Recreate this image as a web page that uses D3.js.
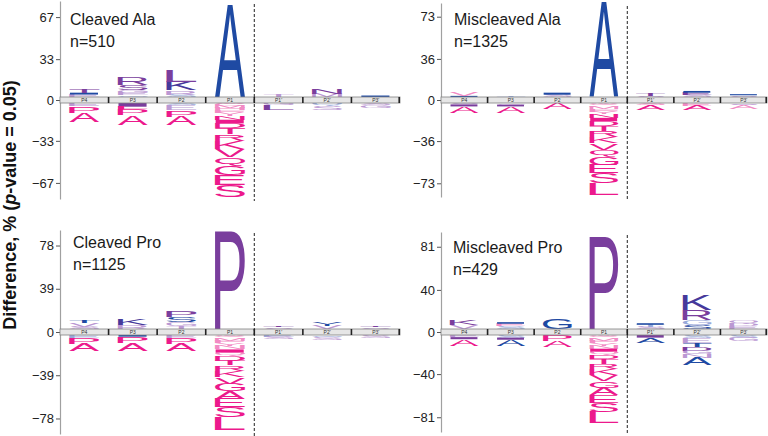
<!DOCTYPE html>
<html><head><meta charset="utf-8">
<script src="https://cdn.jsdelivr.net/npm/d3@7"></script>
<style>body{margin:0;background:#fff}</style></head>
<body>
<svg id="chart" width="768" height="436"></svg>
<script>
// ---- data ----
const positions = ["P4","P3","P2","P1","P1'","P2'","P3'"];

// each position: letters listed from the zero bar outward, [residue, % difference, colour key]
const cleavedAlaUp = [
  [["E",2,"lp"],["I",1.5,"b"],["T",3,"p"]],
  [["Q",1.5,"lb"],["E",2,"lp"],["G",2.5,"lp"],["S",4,"p"],["R",6.5,"p"]],
  [["S",2,"lb"],["R",3.5,"lp"],["K",7,"ib"],["L",9,"p"]],
  [["A",74,"b"]],
  [["T",1.5,"lp"]],
  [["M",2.5,"lp"],["N",4.5,"p"]],
  [["I",1.2,"b"]]
];
const cleavedAlaDown = [
  [["E",2.5,"lp"],["P",5.5,"pk"],["A",7.5,"pk"]],
  [["I",3,"p"],["L",2,"pk"],["P",5,"pk"],["A",7.5,"pk"]],
  [["S",2,"lb"],["E",3.5,"lp"],["P",5.5,"pk"],["A",7,"pk"]],
  [["W",1,"lpk"],["C",1.5,"lpk"],["M",1.5,"lpk"],["H",2,"lpk"],["F",2,"lpk"],["Y",2.5,"lpk"],["N",3,"pk"],["I",3,"pk"],["D",4,"pk"],["T",5,"pk"],["R",5.5,"pk"],["K",6,"pk"],["V",6.5,"pk"],["Q",7,"pk"],["G",7.5,"pk"],["E",8,"pk"],["S",10,"pk"]],
  [["G",2,"lp"],["L",4,"p"]],
  [["Q",2,"lb"],["S",3.5,"lp"]],
  [["S",2,"lp"],["G",2,"lp"]]
];

const miscleavedAlaUp = [
  [["I",1,"b"],["V",3,"lpk"]],
  [["T",1.5,"lb"]],
  [["S",2,"lp"],["I",1.8,"b"]],
  [["A",83,"b"]],
  [["S",1,"lp"],["T",1.8,"p"]],
  [["S",1.8,"lp"],["E",2,"p"],["I",1.5,"b"]],
  [["S",1.5,"lp"],["I",1,"b"]]
];
const miscleavedAlaDown = [
  [["S",1.2,"lp"],["I",1.8,"p"],["A",6,"pk"]],
  [["G",1.5,"lp"],["I",1.5,"p"],["A",5.5,"pk"]],
  [["A",5.5,"pk"]],
  [["W",1,"lpk"],["C",1,"lpk"],["H",1.5,"lpk"],["M",2,"lpk"],["F",2,"lpk"],["Y",2.5,"lpk"],["N",3,"pk"],["I",3,"pk"],["D",4,"pk"],["T",4.5,"pk"],["R",5,"pk"],["K",5.5,"pk"],["V",6,"pk"],["Q",6,"pk"],["G",7,"pk"],["E",7.5,"pk"],["S",9,"pk"],["L",10.5,"pk"]],
  [["S",2,"lpk"],["A",4.5,"pk"]],
  [["E",2.5,"lpk"],["A",4,"pk"]],
  [["S",1.5,"lp"],["A",3.5,"lpk"]]
];

const cleavedProUp = [
  [["S",2,"lp"],["V",3.5,"lp"],["T",2,"b"]],
  [["R",3.5,"lp"],["K",6,"ib"]],
  [["T",2.5,"lp"],["G",3.5,"lp"],["S",4.5,"b"],["P",5.5,"p"]],
  [["P",88,"p"]],
  [["S",1.5,"lp"],["T",1.5,"p"]],
  [["V",3,"lp"],["Y",3,"b"]],
  [["S",1.5,"lp"],["T",1.5,"p"]]
];
const cleavedProDown = [
  [["E",2.5,"lb"],["P",5.5,"pk"],["A",6.5,"pk"]],
  [["I",1.5,"b"],["P",5.5,"pk"],["A",7,"pk"]],
  [["E",2.5,"lp"],["P",5.5,"pk"],["A",6.5,"pk"]],
  [["W",1,"lpk"],["C",1,"lpk"],["H",1.5,"lpk"],["M",2,"lpk"],["F",2,"lpk"],["Y",2.5,"lpk"],["N",3,"lpk"],["I",3,"pk"],["Q",3,"lpk"],["D",4,"pk"],["T",4.5,"pk"],["R",5,"pk"],["K",5.5,"pk"],["V",6,"pk"],["G",6.5,"pk"],["A",7,"pk"],["E",7.5,"pk"],["S",9.5,"pk"],["L",11,"pk"]],
  [["E",2,"lb"],["S",2,"lp"]],
  [["Q",2,"lb"],["S",2.5,"lp"]],
  [["S",2.5,"lp"]]
];

const miscleavedProUp = [
  [["V",3.5,"lp"],["K",4.5,"p"]],
  [["S",2.5,"lb"],["E",2.5,"lpk"],["I",1.5,"b"]],
  [["G",10,"b"]],
  [["P",88,"p"]],
  [["S",2,"lp"],["T",2,"lb"],["I",1.5,"b"]],
  [["S",3.5,"b"],["G",5,"lb"],["R",9.5,"p"],["K",14,"ib"]],
  [["E",2.5,"lp"],["D",2.5,"lp"],["Q",3.5,"lp"]]
];
const miscleavedProDown = [
  [["E",2,"lp"],["I",2,"p"],["A",6,"pk"]],
  [["S",2.5,"lb"],["I",2,"p"],["A",6,"b"]],
  [["P",5.5,"pk"],["A",6,"pk"]],
  [["W",1,"lpk"],["C",1,"lpk"],["H",1.5,"lpk"],["M",2,"lpk"],["F",2,"lpk"],["Y",2.5,"lpk"],["N",3,"lpk"],["I",3,"pk"],["Q",3,"lpk"],["D",4,"pk"],["T",4.5,"pk"],["R",5,"pk"],["K",5.5,"pk"],["V",6,"pk"],["G",6,"pk"],["A",7,"pk"],["E",7.5,"pk"],["S",8.5,"pk"],["L",11,"pk"]],
  [["I",2.5,"p"],["A",5,"b"]],
  [["S",3,"lb"],["E",4.5,"lp"],["T",3.5,"b"],["D",4,"p"],["G",3.5,"lp"],["N",3,"lp"],["A",7,"b"]],
  [["S",2.5,"lb"],["G",3,"lp"]]
];

const tickSets = [[-67,-33,0,33,67],[-73,-36,0,36,73],[-78,-39,0,39,78],[-81,-40,0,40,81]];
const titles = ["Cleaved Ala","Miscleaved Ala","Cleaved Pro","Miscleaved Pro"];
const counts = ["n=510","n=1325","n=1125","n=429"];
const axisMax = [80,85,92,95];

// ---- styles / layout ----
const colors = {pk:"#ec198c", lpk:"#f28ac4", b:"#1f4aa3", lb:"#98a9da", p:"#7a3e9d", lp:"#bb98d3", ib:"#46399b"};
const layout = [
  {x0:60,  x1:400, yTop:1,   yBottom:199, tx:70,  ty:25},
  {x0:441, x1:767, yTop:3,   yBottom:197, tx:454, ty:25},
  {x0:60,  x1:400, yTop:230, yBottom:434, tx:73,  ty:248},
  {x0:441, x1:767, yTop:232, yBottom:432, tx:453, ty:253}
];
const ups = [cleavedAlaUp, miscleavedAlaUp, cleavedProUp, miscleavedProUp];
const downs = [cleavedAlaDown, miscleavedAlaDown, cleavedProDown, miscleavedProDown];

const FONT = "'Liberation Sans', Arial, sans-serif";
const ctx = document.createElement("canvas").getContext("2d");
ctx.font = "100px 'Liberation Sans', Arial, sans-serif";
const inkCache = {};
function ink(ch){
  if(!inkCache[ch]){
    const m = ctx.measureText(ch);
    inkCache[ch] = {l:-m.actualBoundingBoxLeft, r:m.actualBoundingBoxRight, t:-m.actualBoundingBoxAscent, b:m.actualBoundingBoxDescent};
  }
  return inkCache[ch];
}
function drawLetter(g, ch, cx, w, yA, yB, color){
  const h = yB - yA;
  if (h < 0.25) return;
  const k = ink(ch);
  const sx = w/(k.r-k.l), sy = h/(k.b-k.t);
  g.append("text").text(ch)
    .attr("x",0).attr("y",0)
    .style("font-family",FONT).style("font-size","100px")
    .attr("fill",color)
    .attr("transform",`translate(${cx-w/2},${yA}) scale(${sx},${sy}) translate(${-k.l},${-k.t})`);
}

const svg = d3.select("#chart");
const HALF = 3; // half height of the zero bar

layout.forEach((L, i) => {
  const g = svg.append("g");
  const x = d3.scaleBand().domain(positions).range([L.x0, L.x1]).padding(0);
  const y = d3.scaleLinear().domain([-axisMax[i], axisMax[i]]).range([L.yBottom, L.yTop]);
  const y0 = y(0);
  const lw = x.bandwidth()*0.62;

  // y axis
  const ax = g.append("g").attr("transform",`translate(${L.x0},0)`)
    .call(d3.axisLeft(y).tickValues(tickSets[i]).tickSize(4).tickSizeOuter(0).tickPadding(2).tickFormat(d3.format("d")));
  ax.select(".domain").attr("stroke","#a0a0a0").attr("stroke-width",1.2);
  ax.selectAll(".tick line").attr("stroke","#555");
  ax.selectAll(".tick text").style("font-family","'Liberation Sans', Arial, sans-serif").style("font-size","13px").attr("fill","#222");

  // letters
  positions.forEach((p, j) => {
    const cx = x(p) + x.bandwidth()/2;
    let cum = 0;
    ups[i][j].forEach(([aa, v, c]) => {
      const yB = y(cum) - HALF, yA = y(cum+v) - HALF;
      drawLetter(g, aa, cx, lw, yA, yB, colors[c]);
      cum += v;
    });
    cum = 0;
    downs[i][j].forEach(([aa, v, c]) => {
      const yA = y(-cum) + HALF, yB = y(-(cum+v)) + HALF;
      drawLetter(g, aa, cx, lw, yA, yB, colors[c]);
      cum += v;
    });
  });

  // zero bar
  g.append("rect").attr("x",L.x0).attr("y",y0-HALF).attr("width",L.x1-L.x0).attr("height",2*HALF)
    .attr("fill","#e6e6e6").attr("stroke","#808080").attr("stroke-width",0.8);
  positions.forEach((p, j) => {
    if (j > 0) g.append("line").attr("x1",x(p)).attr("x2",x(p)).attr("y1",y0-HALF).attr("y2",y0+HALF)
      .attr("stroke","#222").attr("stroke-width",1.6);
    g.append("text").attr("x",x(p)+x.bandwidth()/2).attr("y",y0+1.6).attr("text-anchor","middle")
      .style("font-family","'Liberation Sans', Arial, sans-serif").style("font-size","5px").attr("fill","#333").text(p);
  });
  g.append("line").attr("x1",L.x1-0.8).attr("x2",L.x1-0.8).attr("y1",y0-HALF).attr("y2",y0+HALF)
      .attr("stroke","#222").attr("stroke-width",1.6);

  // cleavage site dashed line
  const xd = x("P1'");
  g.append("line").attr("x1",xd).attr("x2",xd).attr("y1",L.yTop+3).attr("y2",L.yBottom+2)
    .attr("stroke","#222").attr("stroke-width",1).attr("stroke-dasharray","3,2");

  // titles
  g.append("text").attr("x",L.tx).attr("y",L.ty).style("font-family","'Liberation Sans', Arial, sans-serif")
    .style("font-size","16px").attr("fill","#1a1a1a").text(titles[i]);
  g.append("text").attr("x",L.tx).attr("y",L.ty+22).style("font-family","'Liberation Sans', Arial, sans-serif")
    .style("font-size","16px").attr("fill","#1a1a1a").text(counts[i]);
});

// y-axis title
const yt = svg.append("text").attr("transform","translate(16,205) rotate(-90)").attr("text-anchor","middle")
  .style("font-family","'Liberation Sans', Arial, sans-serif").style("font-size","18px").style("font-weight","bold").attr("fill","#111");
yt.append("tspan").text("Difference, % (");
yt.append("tspan").style("font-style","italic").text("p");
yt.append("tspan").text("-value = 0.05)");
</script>
</body></html>
